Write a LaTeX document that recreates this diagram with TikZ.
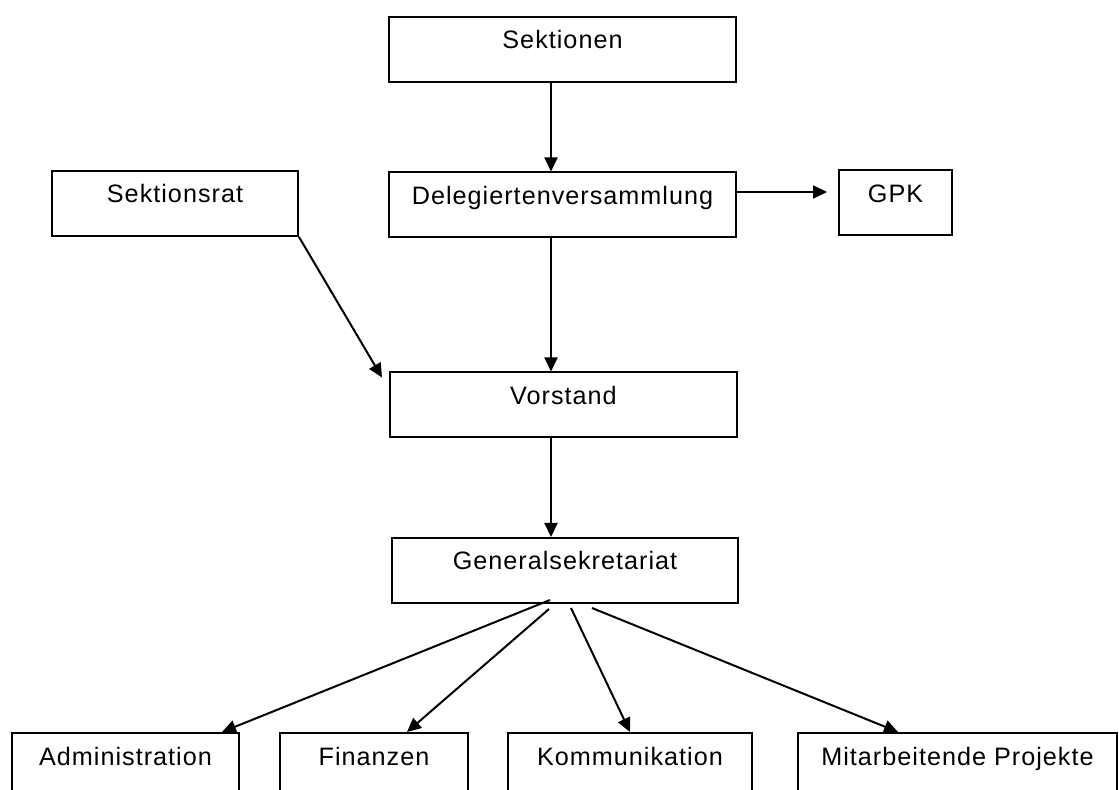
\documentclass[tikz,border=0pt]{standalone}
\usepackage{fontspec}
\setmainfont{Liberation Sans}[LetterSpace=4]
\usetikzlibrary{calc,arrows.meta}

\begin{document}
\begin{tikzpicture}[x=0.5pt,y=-0.5pt,
  orgbox/.style={draw, line width=1pt, inner sep=0pt,
    text height=16pt, text depth=16.5pt, font=\fontsize{12.6}{15}\selectfont},
  link/.style={line width=1pt, -{Triangle[length=7pt,width=6.5pt]}}]
  \clip (0,0) rectangle (1119,790);
  \coordinate (spine) at (551,0);
  \coordinate (gpkarm) at (0,192);
  % upper levels
  \node[orgbox, minimum width=173.5pt] (sektionen) at (562.5,49.5) {Sektionen};
  \node[orgbox, minimum width=173.5pt] (deleg) at (562.5,205) {Delegiertenversammlung};
  \node[orgbox, minimum width=56.5pt] (gpk) at (895.5,203) {GPK};
  \node[orgbox, minimum width=123pt] (sektionsrat) at (175,203.5) {Sektionsrat};
  \node[orgbox, minimum width=173.5pt] (vorstand) at (563.5,405) {Vorstand};
  \node[orgbox, minimum width=173pt] (gensek) at (565,570.5) {Generalsekretariat};
  % bottom row
  \node[orgbox, minimum width=113.5pt] (admin) at (125.5,765.5) {Administration};
  \node[orgbox, minimum width=94pt] (fin) at (374,765.5) {Finanzen};
  \node[orgbox, minimum width=122pt] (komm) at (630,765.5) {Kommunikation};
  \node[orgbox, minimum width=159.5pt] (mitarb) at (957.5,765.5) {Mitarbeitende Projekte};
  % arrows
  \draw[link] (sektionen.south -| spine) -- (deleg.north -| spine);
  \draw[link] (deleg.south -| spine) -- (vorstand.north -| spine);
  \draw[link] (vorstand.south -| spine) -- (gensek.north -| spine);
  \draw[link, shorten >=5.5pt] (deleg.east |- gpkarm) -- (gpk.west |- gpkarm);
  \draw[link] (sektionsrat.south east) -- ($(vorstand.north west)+(-7,6)$);
  \draw[link] ($(gensek.south)+(-15,-4)$) -- ($(admin.north)+(96.5,0)$);
  \draw[link] ($(gensek.south)+(-16,5)$) -- ($(fin.north)+(33,0)$);
  \draw[link] ($(gensek.south)+(6,4)$) -- (komm.north);
  \draw[link] ($(gensek.south)+(27,4)$) -- ($(mitarb.north)+(-59.5,0)$);
\end{tikzpicture}
\end{document}
